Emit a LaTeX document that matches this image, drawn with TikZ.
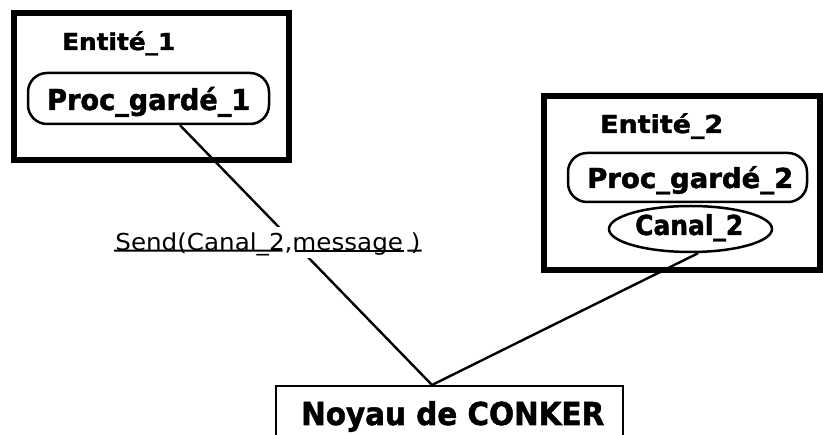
\documentclass[tikz,border=0pt]{standalone}
\usepackage{fontspec}
\usepackage{graphicx}
\setmainfont{DejaVu Sans}
\newfontfamily\heavy{DejaVu Sans Bold}[FakeBold=1.6]
\usetikzlibrary{shapes.geometric,calc}

% scale a text so that its cap height is #2 and its width is #1
\newcommand\capfit[3]{\resizebox{#1}{#2}{\vphantom{E}\smash{#3}}}

\tikzset{
  entbox/.style={draw, line width=6pt, rectangle, inner sep=0pt},
  procbox/.style={draw, line width=2.5pt, rectangle, rounded corners=19pt, inner sep=0pt},
  chanbox/.style={draw, line width=2.5pt, ellipse, inner sep=0pt},
  kernbox/.style={draw, line width=2.5pt, rectangle, inner sep=0pt},
  tag/.style={inner sep=0pt, anchor=base west, font=\heavy},
  wire/.style={line width=2.4pt},
  sendlbl/.style={fill=white, inner xsep=0pt, inner ysep=7pt},
  uline/.style={line width=1.8pt}
}

\begin{document}
\begin{tikzpicture}[x=1pt, y=-1pt]
  \fill[white] (0,0) rectangle (823,435);
  \clip (0,0) rectangle (823,435);

  % first entity
  \node[entbox, minimum width=275pt, minimum height=146.5pt] (ent1) at (151,86.75) {};
  \node[tag] (ent1t) at (62,50) {\capfit{113pt}{17pt}{Entité\_1}};
  \node[procbox, minimum width=241pt, minimum height=51pt] (p1) at (148.5,98.5) {};
  \node[tag] (p1t) at (47,110) {\capfit{203pt}{21pt}{Proc\_gardé\_1}};

  % second entity
  \node[entbox, minimum width=276pt, minimum height=173.5pt] (ent2) at (681.5,183.25) {};
  \node[tag] (ent2t) at (600,133) {\capfit{123pt}{18pt}{Entité\_2}};
  \node[procbox, minimum width=239pt, minimum height=49pt] (p2) at (687.5,177.5) {};
  \node[tag] (p2t) at (587,188) {\capfit{206pt}{20pt}{Proc\_gardé\_2}};
  \node[chanbox, minimum width=163pt, minimum height=46pt] (c2) at (690.5,229) {};
  \node[tag] (c2t) at (635,235) {\capfit{108pt}{20pt}{Canal\_2}};

  % kernel
  \node[kernbox, minimum width=347pt, minimum height=120pt, anchor=north] (noyau) at (449.5,385) {};
  \node[tag] (noyaut) at (301,425) {\capfit{303pt}{23pt}{Noyau de CONKER}};

  % connections to the kernel
  \coordinate (join) at (432,385);
  \draw[wire] ([xshift=31.5pt]p1.south) -- node[sendlbl, pos=0.45, xshift=-25.5pt] (send)
      {\capfit{305pt}{17pt}{Send(Canal\_2,message )}} (join);
  \draw[wire] ([xshift=7.5pt]c2.south) -- (join);

  % underline of the call, broken at the comma and before the parenthesis
  \begin{scope}[uline, yshift=-6pt]
    \draw ($(send.base west)!0!(send.base east)$) -- ($(send.base west)!0.548!(send.base east)$);
    \draw ($(send.base west)!0.587!(send.base east)$) -- ($(send.base west)!0.944!(send.base east)$);
    \draw ($(send.base west)!0.954!(send.base east)$) -- ($(send.base west)!1!(send.base east)$);
  \end{scope}
\end{tikzpicture}
\end{document}
